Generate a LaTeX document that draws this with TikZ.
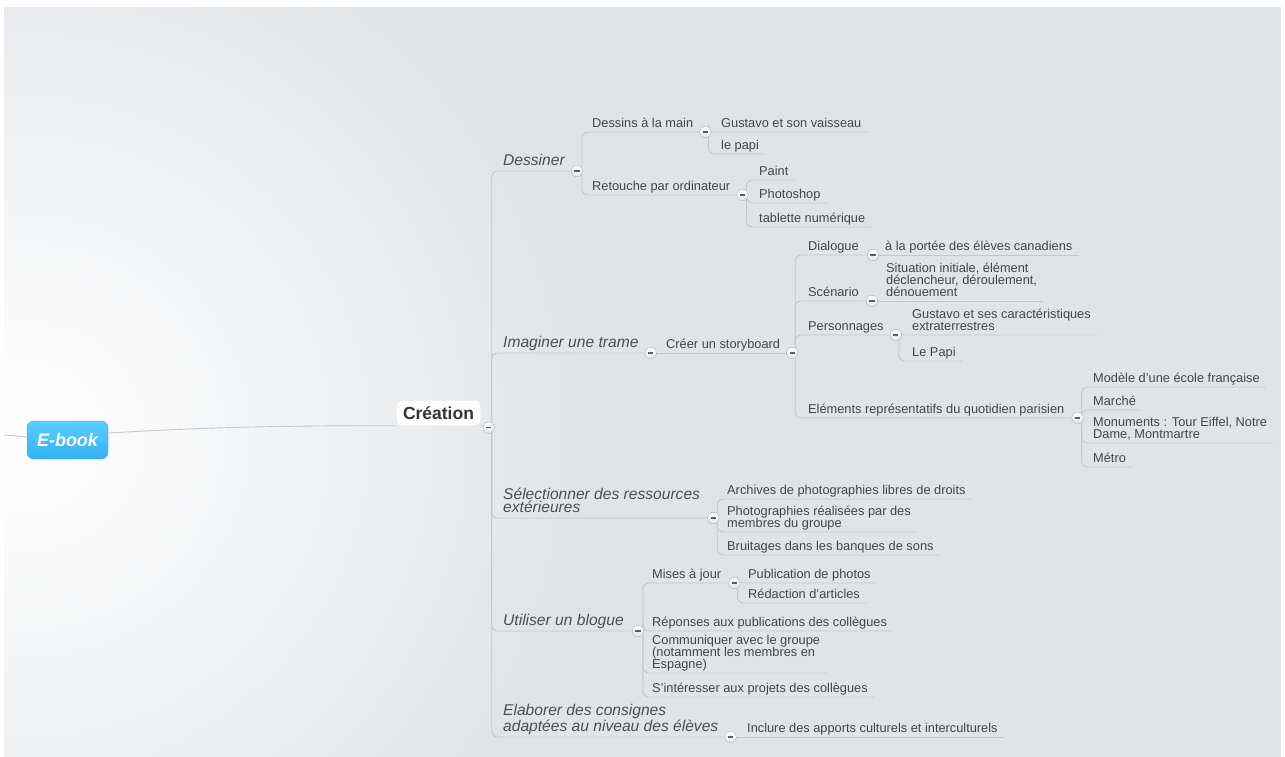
\documentclass[tikz,border=0pt]{standalone}
\usepackage{fontspec}
\setmainfont{Liberation Sans}

\definecolor{bgcol}{HTML}{E1E4E7}
\definecolor{linecol}{HTML}{C4C7CB}
\definecolor{leafcol}{HTML}{454545}
\definecolor{topiccol}{HTML}{4E4E4E}
\definecolor{markedge}{HTML}{AEB2B6}
\definecolor{markdash}{HTML}{5C5C5C}
\definecolor{ebooktop}{HTML}{5CCDFF}
\definecolor{ebookbot}{HTML}{33B2F2}
\definecolor{ebookedge}{HTML}{2EA3E0}

\tikzset{
  branch/.style={draw=linecol, line width=0.9pt, rounded corners=6pt},
  leaf/.style={anchor=south west, inner xsep=6pt, inner ysep=0.5pt, align=left,
    text=leafcol, font=\fontsize{12.8}{12}\selectfont, execute at end node=\strut},
  topic/.style={leaf, inner ysep=1.5pt, text=topiccol,
    font=\itshape\fontsize{15.6}{13.2}\selectfont},
  central/.style={rounded corners=5pt, fill=white, draw=white!92!black,
    text=black!80, font=\bfseries\fontsize{17.5}{20}\selectfont,
    minimum width=84pt, minimum height=25pt, inner sep=0pt},
  rootnode/.style={rounded corners=7pt, top color=ebooktop, bottom color=ebookbot,
    draw=ebookedge, text=white, font=\bfseries\itshape\fontsize{18}{20}\selectfont,
    minimum width=81pt, minimum height=38pt, inner sep=0pt},
  collapse/.style={circle, draw=markedge, top color=white, bottom color=black!10,
    minimum size=11.5pt, inner sep=0pt,
    path picture={\draw[markdash, line width=1.2pt]
      ([xshift=-2.6pt]path picture bounding box.center) --
      ([xshift=2.6pt]path picture bounding box.center);}}
}

\begin{document}
\begin{tikzpicture}[x=1pt, y=-1pt]
  \useasboundingbox (0,0) rectangle (1285,757);

  %-- fond gris avec halo blanc --
  \begin{scope}
    \clip (4,7) rectangle (1281,757);
    \fill[bgcol] (4,7) rectangle (1281,757);
    \shade[inner color=white, outer color=bgcol] (30,436) circle (560);
  \end{scope}
  \fill[white] (0,0) rectangle (1285,7);
  \fill[white] (0,0) rectangle (4,757);
  \fill[white] (1281,0) rectangle (1285,757);

  %-- racine et sujet central --
  \node[rootnode] (ebook) at (67.5,440) {E-book};
  \node[central] (creation) at (438.5,413) {Création};
  \coordinate (offleft) at (4,435);
  \coordinate (cCre) at ([xshift=8pt,yshift=-2pt]creation.south east);

  %-- Dessiner --
  \node[topic] (dessiner) at (497,171) {Dessiner};
  \coordinate (cDes) at ([xshift=6pt]dessiner.south east);
  \node[leaf] (dmain) at (586,132) {Dessins à la main};
  \coordinate (cDm) at ([xshift=6pt]dmain.south east);
  \node[leaf] (retouche) at (586,195) {Retouche par ordinateur};
  \coordinate (cRet) at ([xshift=6pt]retouche.south east);
  \node[leaf] (gustavo) at (715,132) {Gustavo et son vaisseau};
  \node[leaf] (papi) at (715,154) {le papi};
  \node[leaf] (paint) at (753,180) {Paint};
  \node[leaf] (photoshop) at (753,203) {Photoshop};
  \node[leaf] (tablette) at (753,227) {tablette numérique};

  %-- Imaginer une trame --
  \node[topic] (imaginer) at (497,353) {Imaginer une trame};
  \coordinate (cIma) at ([xshift=6pt]imaginer.south east);
  \node[leaf] (storyboard) at (660,353) {Créer un storyboard};
  \coordinate (cSto) at ([xshift=6pt]storyboard.south east);
  \node[leaf] (dialogue) at (802,255) {Dialogue};
  \coordinate (cDia) at ([xshift=8pt]dialogue.south east);
  \node[leaf] (portee) at (879,255) {à la portée des élèves canadiens};
  \node[leaf] (scenario) at (802,301) {Scénario};
  \coordinate (cSce) at ([xshift=7pt]scenario.south east);
  \node[leaf] (situation) at (880,301) {Situation initiale, élément\\déclencheur, déroulement,\\dénouement};
  \node[leaf] (perso) at (802,335) {Personnages};
  \coordinate (cPer) at ([xshift=6pt]perso.south east);
  \node[leaf] (gustavo2) at (906,335) {Gustavo et ses caractéristiques\\extraterrestres};
  \node[leaf] (lepapi) at (906,361) {Le Papi};
  \node[leaf] (elements) at (802,418) {Eléments représentatifs du quotidien parisien};
  \coordinate (cEle) at ([xshift=7pt]elements.south east);
  \node[leaf] (modele) at (1087,387) {Modèle d'une école française};
  \node[leaf] (marche) at (1087,410) {Marché};
  \node[leaf] (monuments) at (1087,443) {Monuments : Tour Eiffel, Notre\\Dame, Montmartre};
  \node[leaf] (metro) at (1087,467) {Métro};

  %-- Sélectionner des ressources --
  \node[topic] (selection) at (497,518) {Sélectionner des ressources\\extérieures};
  \coordinate (cSel) at ([xshift=7pt]selection.south east);
  \node[leaf] (archives) at (721,499) {Archives de photographies libres de droits};
  \node[leaf] (photos) at (721,532) {Photographies réalisées par des\\membres du groupe};
  \node[leaf] (bruitages) at (721,555) {Bruitages dans les banques de sons};

  %-- Utiliser un blogue --
  \node[topic] (blogue) at (497,631) {Utiliser un blogue};
  \coordinate (cBlo) at ([xshift=8pt]blogue.south east);
  \node[leaf] (maj) at (646,583) {Mises à jour};
  \coordinate (cMaj) at ([xshift=7pt]maj.south east);
  \node[leaf] (publication) at (742,583) {Publication de photos};
  \node[leaf] (redaction) at (742,603) {Rédaction d'articles};
  \node[leaf] (reponses) at (646,631) {Réponses aux publications des collègues};
  \node[leaf] (communiquer) at (646,673) {Communiquer avec le groupe\\(notamment les membres en\\Espagne)};
  \node[leaf] (interesser) at (646,697) {S'intéresser aux projets des collègues};

  %-- Elaborer des consignes --
  \node[topic] (elaborer) at (497,737) {Elaborer des consignes\\adaptées au niveau des élèves};
  \coordinate (cEla) at ([xshift=6pt]elaborer.south east);
  \node[leaf] (inclure) at (741,737) {Inclure des apports culturels et interculturels};

  %-- liaisons --
  \draw[branch] (offleft) -- ([yshift=3pt]ebook.west);
  \draw[branch] ([yshift=7pt]ebook.east) .. controls +(90,-5) and +(-140,0) .. (creation.south west);
  \draw[branch] (creation.south east) -- (cCre);
  \foreach \t in {cDes, cIma, cSel, cBlo, cEla}
    \draw[branch] (cCre) -- ++(3,0) |- (\t);
  \foreach \t in {cDm, cRet}
    \draw[branch] (cDes) -- ++(5,0) |- (\t);
  \foreach \t in {gustavo, papi}
    \draw[branch] (cDm) -- ++(3,0) |- (\t.south east);
  \foreach \t in {paint, photoshop, tablette}
    \draw[branch] (cRet) -- ++(4,0) |- (\t.south east);
  \draw[branch] (cIma) -- (cSto);
  \foreach \t in {cDia, cSce, cPer, cEle}
    \draw[branch] (cSto) -- ++(3,0) |- (\t);
  \draw[branch] (cDia) -- (portee.south east);
  \draw[branch] (cSce) -- (situation.south east);
  \foreach \t in {gustavo2, lepapi}
    \draw[branch] (cPer) -- ++(3,0) |- (\t.south east);
  \foreach \t in {modele, marche, monuments, metro}
    \draw[branch] (cEle) -- ++(4,0) |- (\t.south east);
  \foreach \t in {archives, photos, bruitages}
    \draw[branch] (cSel) -- ++(4,0) |- (\t.south east);
  \foreach \t in {cMaj, reponses, communiquer, interesser}
    \draw[branch] (cBlo) -- ++(5,0) |- (\t.south east);
  \foreach \t in {publication, redaction}
    \draw[branch] (cMaj) -- ++(3,0) |- (\t.south east);
  \draw[branch] (cEla) -- (inclure.south east);

  %-- boutons de repli --
  \foreach \c in {cCre, cDes, cDm, cRet, cIma, cSto, cDia, cSce, cPer, cEle, cSel, cBlo, cMaj, cEla}
    \node[collapse] at (\c) {};

\end{tikzpicture}
\end{document}
